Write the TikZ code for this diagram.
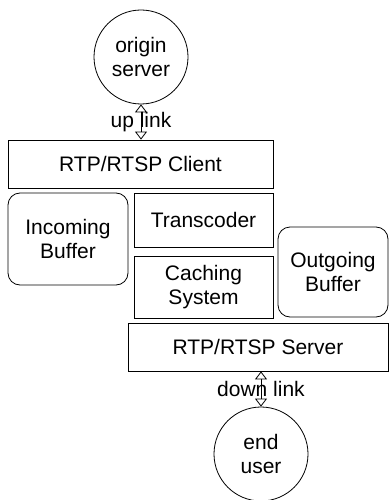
\documentclass[tikz,border=0pt]{standalone}
\usepackage{fontspec}
\setmainfont{Liberation Sans}
\usetikzlibrary{positioning,calc,arrows.meta}

\begin{document}
\begin{tikzpicture}[
  x=1pt, y=-1pt,
  font=\fontsize{21}{23.5}\selectfont,
  peer/.style={circle, draw, line width=0.8pt, minimum size=94pt, inner sep=0pt, align=center},
  blk/.style={draw, line width=0.8pt, inner sep=0pt, align=center},
  buf/.style={blk, rounded corners=12pt},
  lnk/.style={{Triangle[open, width=12pt, length=8pt]}-{Triangle[open, width=12pt, length=8pt]}, line width=0.8pt},
  lab/.style={inner sep=0pt}
]
\useasboundingbox (0,0) rectangle (390,500);

\node[peer] (origin) at (141,57) {origin\\server};
\node[blk, minimum width=265pt, minimum height=48pt] (client) at (140.5,164) {RTP/RTSP Client};

\node[buf, minimum width=120pt, minimum height=92pt] (inbuf) at (68,239) {Incoming\\Buffer};
\node[blk, minimum width=139pt, minimum height=54pt] (transcoder) at (203.5,220) {Transcoder};
\node[blk, minimum width=139pt, minimum height=62pt] (caching) at (203.5,287) {Caching\\System};
\node[buf, minimum width=110pt, minimum height=90pt] (outbuf) at (333,272) {Outgoing\\Buffer};

\node[blk, minimum width=260pt, minimum height=48pt] (server) at (258,347) {RTP/RTSP Server};
\node[peer] (enduser) at (261,454) {end\\user};

% links
\draw[lnk] (origin.south) -- node[lab] {up link} (origin.south |- client.north);
\draw[lnk] (server.south -| enduser.north) -- node[lab] {down link} (enduser.north);

\end{tikzpicture}
\end{document}
